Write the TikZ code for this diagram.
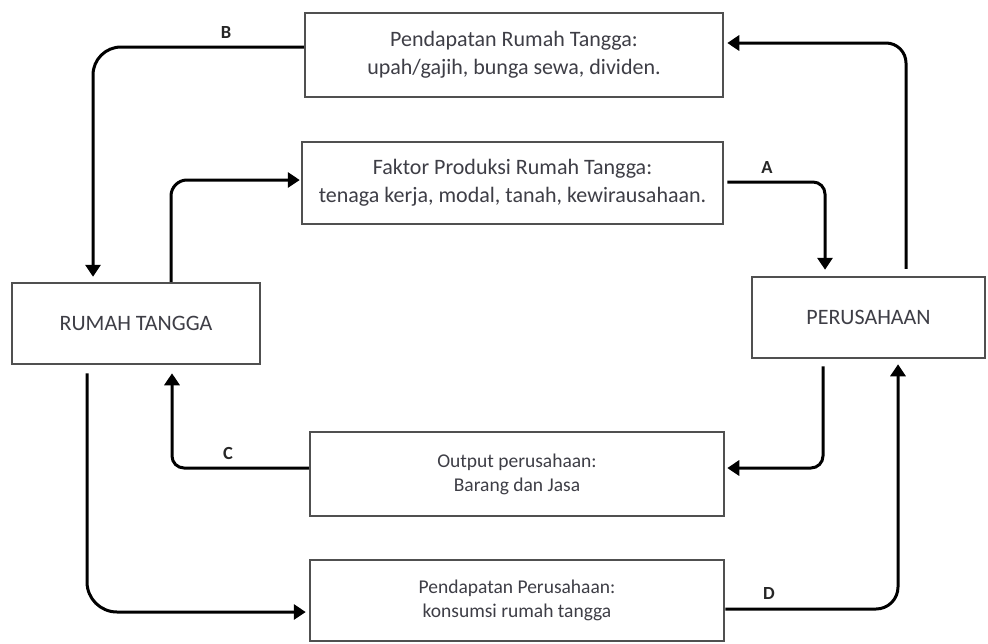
\documentclass[tikz,border=0pt]{standalone}
\usepackage{fontspec}
\setmainfont{Carlito}
\usetikzlibrary{arrows.meta,calc}
\definecolor{txt}{RGB}{62,62,70}
\definecolor{edgec}{RGB}{80,80,80}
\begin{document}
\begin{tikzpicture}[x=1pt,y=-1pt,
  box/.style={draw=edgec,line width=2.5pt,fill=white,inner sep=0pt,align=center,text=txt},
  bigtext/.style={font=\fontsize{22}{28}\selectfont},
  smalltext/.style={font=\fontsize{19.5}{24}\selectfont},
  flow/.style={draw=black,line width=3pt,-{Triangle[width=15pt,length=12pt]}},
  lbl/.style={font=\bfseries\fontsize{18.5}{18.5}\selectfont,text=black!85,inner sep=0pt}]
\useasboundingbox (0,0) rectangle (988,643);

\node[box,bigtext,minimum width=418pt,minimum height=84pt] (tb) at (514,55)
  {Pendapatan Rumah Tangga:\\upah/gajih, bunga sewa, dividen.};
\node[box,bigtext,minimum width=421pt,minimum height=82pt] (fb) at (512.5,183)
  {Faktor Produksi Rumah Tangga:\\tenaga kerja, modal, tanah, kewirausahaan.};
\node[box,bigtext,minimum width=248pt,minimum height=81pt] (rt) at (136,323.5)
  {RUMAH TANGGA};
\node[box,bigtext,minimum width=233pt,minimum height=81pt] (per) at (868.5,317.5)
  {PERUSAHAAN};
\node[box,smalltext,minimum width=414pt,minimum height=84pt] (ob) at (517,474)
  {Output perusahaan:\\Barang dan Jasa};
\node[box,smalltext,minimum width=414pt,minimum height=81pt] (pb) at (517,600.5)
  {Pendapatan Perusahaan:\\konsumsi rumah tangga};

\coordinate (cb) at (93,47);
\coordinate (ctr) at (906,43);
\coordinate (cf) at (171,180);
\coordinate (ca) at (825,182);
\coordinate (co) at (823,468);
\coordinate (cc) at (172,468);
\coordinate (cl) at (87,612);
\coordinate (cd) at (898,609);

% B
\draw[flow,rounded corners=28pt,shorten >=5pt] (cb -| tb.west) -- (cb) -- (cb |- rt.north);
% top right
\draw[flow,rounded corners=20pt,shorten <=7pt,shorten >=3pt] (ctr |- per.north) -- (ctr) -- (ctr -| tb.east);
% Faktor
\draw[flow,rounded corners=16pt,shorten >=1pt] (cf |- rt.north) -- (cf) -- (cf -| fb.west);
% A
\draw[flow,rounded corners=12pt,shorten <=3pt,shorten >=6pt] (ca -| fb.east) -- (ca) -- (ca |- per.north);
% Output
\draw[flow,rounded corners=12pt,shorten <=7pt,shorten >=2pt] (co |- per.south) -- (co) -- (co -| ob.east);
% C
\draw[flow,rounded corners=12pt,shorten >=8pt] (cc -| ob.west) -- (cc) -- (cc |- rt.south);
% bottom left
\draw[flow,rounded corners=30pt,shorten <=8pt,shorten >=3pt] (cl |- rt.south) -- (cl) -- (cl -| pb.west);
% D
\draw[flow,rounded corners=22pt,shorten >=5pt] (cd -| pb.east) -- (cd) -- (cd |- per.south);

\node[lbl] (lb) at (226,32) {B};
\node[lbl] (la) at (767,167) {A};
\node[lbl] (lc) at (228,453) {C};
\node[lbl] (ld) at (769,593) {D};
\end{tikzpicture}
\end{document}
